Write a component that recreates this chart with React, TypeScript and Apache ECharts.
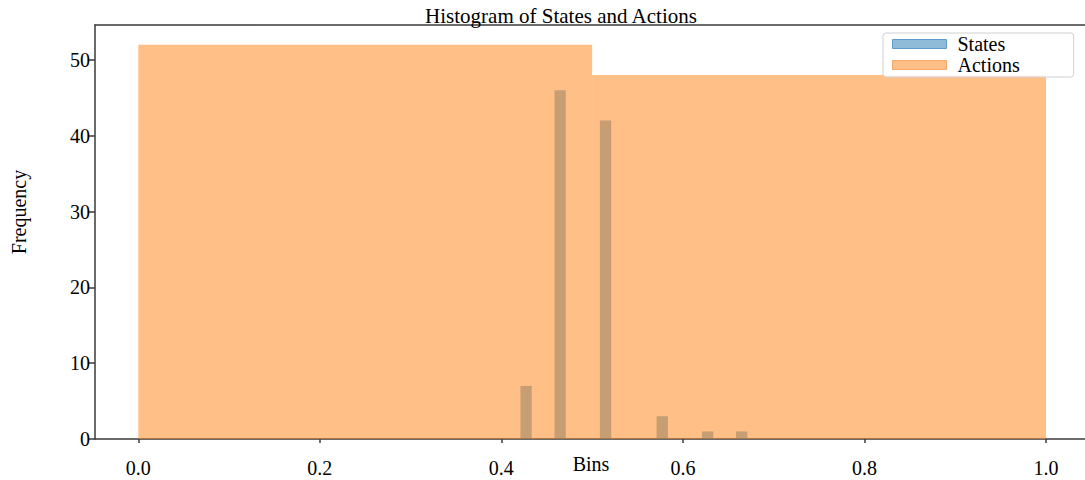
import React, { useEffect, useRef } from "react";
import * as echarts from "echarts";

// ---- data ----
const stateBinLeft = [0.421, 0.4585, 0.5085, 0.571, 0.621, 0.6585];
const stateBinWidth = 0.0125;
const stateCounts = [7, 46, 42, 3, 1, 1];

const actionBinEdges = [0.0, 0.5, 1.0];
const actionCounts = [52, 48];

const xTickValues = [0, 0.2, 0.4, 0.6, 0.8, 1.0];
const yTickInterval = 10;

const FONT = '"Liberation Serif", "DejaVu Serif", serif';

function makeRender(fill: string, stroke: string | null) {
  return (params: any, api: any) => {
    const p0 = api.coord([api.value(0), api.value(2)]);
    const p1 = api.coord([api.value(1), 0]);
    return {
      type: "rect",
      shape: { x: p0[0], y: p0[1], width: p1[0] - p0[0], height: p1[1] - p0[1] },
      style: stroke ? { fill, stroke, lineWidth: 1 } : { fill },
    };
  };
}

export default function App() {
  const ref = useRef<HTMLDivElement>(null);
  useEffect(() => {
    document.body.style.margin = "0";
    const chart = echarts.init(ref.current!, null, { renderer: "svg" });
    const stateData = stateBinLeft.map((l, i) => [l, l + stateBinWidth, stateCounts[i]]);
    const actionData = actionCounts.map((c, i) => [actionBinEdges[i], actionBinEdges[i + 1], c]);
    const axisColor = "#3a3a3a";
    chart.setOption({
      animation: false,
      grid: { left: 95, right: 0, top: 25, bottom: 41, show: false },
      xAxis: [
        {
          type: "value",
          min: -0.0477,
          max: 1.043,
          position: "bottom",
          axisLine: { show: true, onZero: false, lineStyle: { color: axisColor, width: 1.5 } },
          axisTick: { show: true, inside: false, length: 4, customValues: xTickValues, lineStyle: { color: axisColor, width: 1.5 } },
          axisLabel: {
            customValues: xTickValues,
            formatter: (v: number) => v.toFixed(1),
            fontSize: 20,
            fontFamily: FONT,
            color: "#000",
            margin: 19,
          },
          splitLine: { show: false },
        },
        {
          type: "value",
          min: -0.0477,
          max: 1.043,
          position: "top",
          axisLine: { show: true, onZero: false, lineStyle: { color: axisColor, width: 1.5 } },
          axisTick: { show: false },
          axisLabel: { show: false },
          splitLine: { show: false },
        },
      ],
      yAxis: {
        type: "value",
        min: 0,
        max: 54.6,
        interval: yTickInterval,
        axisLine: { show: true, onZero: false, lineStyle: { color: axisColor, width: 1.5 } },
        axisTick: { show: true, inside: false, length: 6, lineStyle: { color: axisColor, width: 1.5 } },
        axisLabel: {
          fontSize: 20,
          fontFamily: FONT,
          color: "#000",
          margin: 5,
          showMaxLabel: false,
        },
        splitLine: { show: false },
      },
      legend: {
        show: true,
        orient: "vertical",
        left: 883,
        top: 33,
        padding: [1, 54, 2, 9],
        itemWidth: 54,
        itemHeight: 9,
        itemGap: 1,
        selectedMode: false,
        backgroundColor: "rgba(255,255,255,0.85)",
        borderColor: "#d0d0d0",
        borderWidth: 1,
        borderRadius: 3,
        textStyle: { fontSize: 20, lineHeight: 20, fontFamily: FONT, color: "#000", padding: [0, 0, 0, 6] },
        data: [
          { name: "States", icon: "rect", itemStyle: { color: "#8fbbd9", borderColor: "#5f9dc9", borderWidth: 1 } },
          { name: "Actions", icon: "rect", itemStyle: { color: "#ffbf86", borderColor: "#f5aa6c", borderWidth: 1 } },
        ],
      },
      graphic: [
        {
          type: "text",
          x: 561,
          y: 16,
          z: 100,
          style: { text: "Histogram of States and Actions", fontSize: 21, fontFamily: FONT, fill: "#000", align: "center", verticalAlign: "middle" },
        },
        {
          type: "text",
          x: 19,
          y: 212,
          rotation: Math.PI / 2,
          style: { text: "Frequency", fontSize: 20, fontFamily: FONT, fill: "#000", align: "center", verticalAlign: "middle" },
        },
        {
          type: "text",
          x: 591,
          y: 464,
          style: { text: "Bins", fontSize: 20, fontFamily: FONT, fill: "#000", align: "center", verticalAlign: "middle" },
        },
      ],
      series: [
        {
          name: "States",
          type: "custom",
          xAxisIndex: 0,
          itemStyle: { color: "#8fbbd9" },
          renderItem: makeRender("rgba(31,119,180,0.5)", null),
          encode: { x: [0, 1], y: 2 },
          data: stateData,
        },
        {
          name: "Actions",
          type: "custom",
          xAxisIndex: 0,
          itemStyle: { color: "#ffbf86" },
          renderItem: makeRender("rgba(255,127,14,0.5)", null),
          encode: { x: [0, 1], y: 2 },
          data: actionData,
        },
      ],
    });
    return () => chart.dispose();
  }, []);
  return <div ref={ref} style={{ width: 1085, height: 480 }} />;
}
